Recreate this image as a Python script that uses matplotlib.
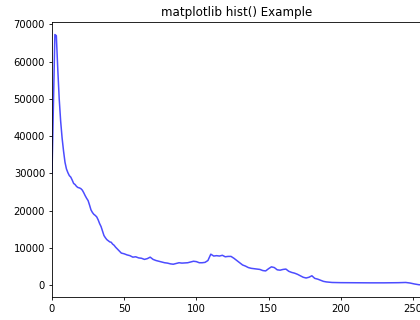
#!/usr/bin/env python3
import matplotlib
matplotlib.use('Agg')
import matplotlib.pyplot as plt

# pixel intensity bins (x) and their counts (y)
bins = [0, 1, 2, 3, 4, 5, 6, 7, 8, 9, 10, 11, 12, 13, 14, 15, 16, 17, 18, 19,
        20, 21, 22, 23, 24, 25, 26, 27, 28, 29, 30, 31, 32, 33, 34, 35, 36, 37,
        38, 39, 40, 41, 42, 43, 44, 45, 46, 47, 48, 49, 50, 52, 54, 56, 58, 60,
        62, 64, 66, 68, 70, 72, 74, 76, 78, 80, 82, 84, 86, 88, 90, 92, 94, 96,
        98, 100, 102, 104, 106, 108, 110, 112, 114, 116, 118, 120, 122, 124,
        126, 128, 130, 132, 134, 136, 138, 140, 142, 144, 146, 148, 150, 152,
        154, 156, 158, 160, 162, 164, 166, 168, 170, 172, 174, 176, 178, 180,
        182, 184, 186, 188, 190, 194, 200, 210, 220, 230, 240, 245, 248, 251,
        254, 256]
counts = [30000, 48000, 67300, 67000, 58000, 50000, 44000, 39500, 36000, 33000,
          31200, 30200, 29400, 29000, 28200, 27300, 27000, 26500, 26200, 26100,
          25900, 25500, 24800, 24000, 23300, 22700, 21500, 20200, 19500, 19000,
          18700, 18300, 17500, 16500, 15700, 14500, 13300, 12700, 12200, 11900,
          11600, 11500, 11000, 10700, 10200, 9800, 9400, 9000, 8600, 8500,
          8400, 8100, 7900, 7500, 7600, 7300, 7200, 6900, 7100, 7500,
          6900, 6600, 6400, 6200, 6000, 5900, 5700, 5600, 5800, 6000,
          5900, 5950, 6000, 6200, 6400, 6300, 6000, 6000, 6100, 6600,
          8300, 7800, 7900, 7800, 8000, 7600, 7700, 7700, 7200, 6600,
          6000, 5400, 5100, 4700, 4500, 4400, 4300, 4200, 3900, 3800,
          4400, 4900, 4700, 4100, 4000, 4200, 4300, 3700, 3400, 3200,
          2900, 2500, 2100, 1900, 2100, 2500, 1800, 1600, 1300, 1000,
          850, 700, 650, 620, 600, 600, 640, 700, 550, 300,
          100, 50]
title = 'matplotlib hist() Example'

fig = plt.figure(figsize=(4.2, 3.2), dpi=100)
ax = fig.add_axes([0.1238, 0.0706, 0.880, 0.8606])
ax.plot(bins, counts, color='b', alpha=0.7, linewidth=1.1)
ax.set_xlim(0, 256)
ax.set_xticks([0, 50, 100, 150, 200, 250])
ax.set_yticks(range(0, 70001, 10000))
ax.set_title(title, fontsize=8.6, pad=4.3)
ax.tick_params(labelsize=7.2, length=2.5, width=0.6, pad=2.5)
for s in ax.spines.values():
    s.set_linewidth(0.6)

fig.savefig('out.png', dpi=100)
